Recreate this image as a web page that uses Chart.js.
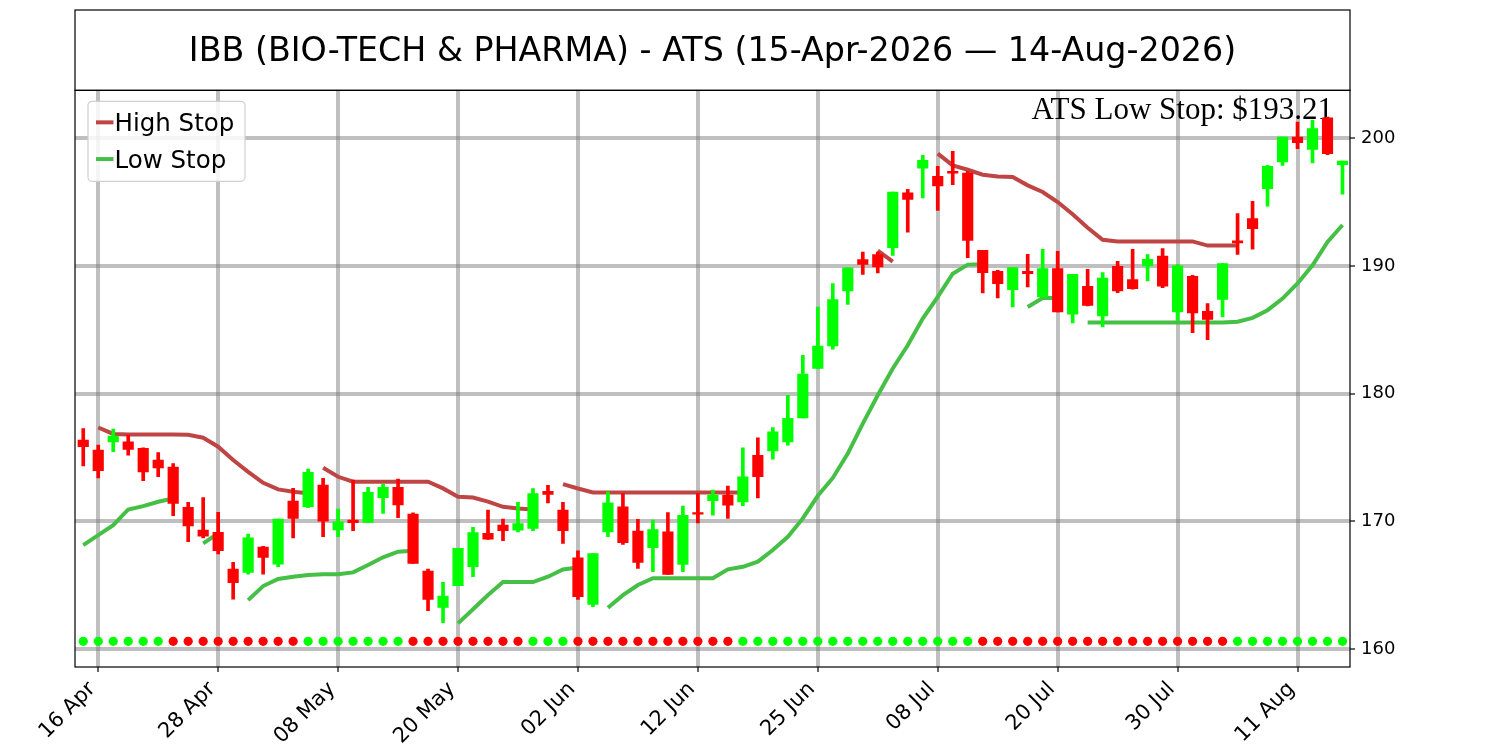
<!DOCTYPE html>
<html>
<head>
<meta charset="utf-8">
<script src="https://cdn.jsdelivr.net/npm/chart.js@4.4.1/dist/chart.umd.min.js"></script>
<style>
  html, body { margin: 0; padding: 0; background: #fff; }
  #wrap { width: 1500px; height: 750px; }
</style>
</head>
<body>
<div id="wrap"><canvas id="atsChart" width="1500" height="750"></canvas></div>
<script>
// IBB daily candles, 15-Apr-2026 .. 14-Aug-2026 (85 sessions, index 0..84)
var openValues = [176.36,175.58,176.23,176.23,175.71,174.79,174.25,171.09,169.31,169.13,
  166.26,166.00,167.98,166.65,171.58,171.14,172.84,169.32,170.10,169.92,
  171.85,172.66,170.57,166.11,163.26,164.96,166.45,169.06,169.71,169.31,
  169.44,172.36,170.88,167.14,163.49,169.18,171.14,169.23,167.93,169.18,
  166.62,170.69,171.61,172.05,171.53,175.18,175.52,176.23,178.11,181.97,
  183.74,188.05,190.50,190.89,191.44,195.74,197.67,197.02,197.41,197.28,
  191.23,189.59,188.15,189.59,187.58,189.79,186.22,188.41,186.09,189.98,
  188.93,190.01,190.77,186.41,189.20,186.46,187.38,191.97,193.72,196.06,
  198.15,200.11,199.14,201.60,197.94];
var highValues = [177.27,175.97,177.22,176.75,175.75,175.39,174.53,171.48,171.87,170.70,
  166.78,169.00,168.05,170.18,172.58,174.09,173.36,170.96,173.23,172.66,
  172.92,173.31,170.67,166.26,165.22,167.88,169.53,170.88,170.18,171.48,
  172.57,172.83,171.48,167.69,167.48,172.31,172.18,170.15,170.09,170.69,
  171.19,172.18,172.45,172.76,175.76,176.54,177.35,179.88,183.01,186.79,
  188.62,189.85,191.10,191.10,195.80,196.00,198.67,197.80,198.98,197.41,
  191.23,189.66,189.87,190.92,191.31,191.15,189.35,189.74,189.48,190.37,
  191.31,190.90,191.37,190.12,189.28,187.06,190.19,194.11,195.07,197.89,
  200.11,201.28,201.41,201.67,198.23];
var lowValues = [174.35,173.41,175.45,175.18,173.18,173.49,170.44,168.40,168.71,167.44,
  163.91,165.87,165.87,166.44,168.71,171.07,168.80,168.80,169.27,169.89,
  170.62,170.28,166.71,163.00,162.06,164.96,165.66,168.59,168.48,169.18,
  169.26,171.45,168.27,163.88,163.31,168.79,168.19,166.31,166.05,165.84,
  166.05,169.88,170.49,170.23,171.22,171.84,174.87,175.97,178.11,181.97,
  183.48,187.00,189.35,189.46,190.84,192.66,195.33,194.36,196.37,190.66,
  187.89,187.50,186.79,188.36,187.58,186.40,185.54,186.87,185.23,187.92,
  188.18,188.84,188.31,185.71,184.77,184.24,186.02,190.90,191.32,194.68,
  197.89,199.20,198.07,198.73,195.62];
var closeValues = [175.84,173.96,176.67,175.63,173.88,174.19,171.40,169.65,168.84,167.70,
  165.19,168.71,167.17,170.18,170.23,173.83,170.02,169.97,169.89,172.27,
  172.66,171.28,166.71,163.89,164.15,167.88,169.11,168.61,169.27,169.83,
  172.18,172.10,169.26,164.09,167.48,171.45,168.32,166.78,169.36,165.84,
  170.48,170.56,172.05,171.27,173.49,173.49,177.01,178.06,181.53,183.72,
  187.37,189.85,190.13,189.92,195.80,195.22,198.27,196.27,197.28,192.01,
  189.48,188.62,189.87,189.40,189.79,186.40,189.35,186.92,189.06,188.05,
  188.23,190.53,188.42,190.01,186.33,185.81,190.19,191.81,192.93,197.81,
  200.11,199.67,200.76,198.80,198.23];

// ATS trailing stops (null = stop not active)
var highStopValues = [null,177.35,176.85,176.80,176.80,176.80,176.80,176.78,176.55,175.85,
  174.80,173.88,173.02,172.50,172.32,172.20,174.20,173.49,173.10,173.10,
  173.10,173.10,173.10,173.10,172.58,171.93,171.87,171.54,171.14,171.00,
  170.93,null,172.91,172.57,172.26,172.26,172.26,172.26,172.26,172.26,
  172.26,172.26,172.26,172.26,172.26,null,null,null,null,null,
  null,null,null,191.20,190.35,null,null,198.80,197.88,197.54,
  197.15,197.02,196.97,196.32,195.80,195.01,194.05,193.00,192.06,191.93,
  191.93,191.93,191.93,191.93,191.93,191.60,191.60,191.60,null,null,
  null,null,null,null,null];
var lowStopValues = [168.14,168.92,169.70,170.93,171.19,171.53,171.79,null,168.27,169.05,
  null,163.83,164.93,165.48,165.66,165.79,165.85,165.85,166.00,166.58,
  167.18,167.62,167.70,null,null,162.01,163.11,164.23,165.24,165.24,
  165.24,165.66,166.23,166.39,null,163.23,164.22,165.01,165.55,165.55,
  165.55,165.55,165.55,166.24,166.44,166.84,167.75,168.79,170.23,172.00,
  173.40,175.31,177.66,179.88,181.97,183.79,185.88,187.58,189.40,190.11,
  190.13,null,null,186.79,187.50,187.50,null,185.57,185.57,185.57,
  185.57,185.57,185.57,185.57,185.57,185.57,185.57,185.63,185.94,186.54,
  187.45,188.63,190.06,191.89,193.21];

// signal dots along the bottom: 1 = long (green), -1 = short (red)
var signalValues = [1,1,1,1,1,1,-1,-1,-1,-1,
  -1,-1,-1,-1,-1,1,1,1,1,1,
  1,1,-1,-1,-1,-1,-1,-1,-1,-1,
  1,1,1,-1,-1,-1,-1,-1,-1,-1,
  -1,-1,-1,-1,1,1,1,1,1,1,
  1,1,1,1,1,1,1,1,1,1,
  -1,-1,-1,-1,-1,-1,-1,-1,-1,-1,
  -1,-1,-1,-1,-1,-1,-1,1,1,1,
  1,1,1,1,1];
var signalLevel = 160.6;

var tickIndex = [1, 9, 17, 25, 33, 41, 49, 57, 65, 73, 81];
var tickLabels = ["16 Apr", "28 Apr", "08 May", "20 May", "02 Jun", "12 Jun",
  "25 Jun", "08 Jul", "20 Jul", "30 Jul", "11 Aug"];
var yTicks = [160, 170, 180, 190, 200];

var UP = "#00ff00", DOWN = "#ff0000";
var HIGH_COLOR = "#bf4545", LOW_COLOR = "#45bf45";
var GRID = "rgba(128,128,128,0.5)";

Chart.defaults.font.family = "'DejaVu Sans', sans-serif";
Chart.defaults.color = "#000";

var candleColors = openValues.map(function(o, i) {
  return closeValues[i] >= o ? UP : DOWN;
});
var idx = function(v, i) { return { x: i, y: v }; };

// a trailing stop that jumps (resets) starts a new piece of line
function stopSegment(color, dir) {
  return {
    borderColor: function(ctx) {
      var d = ctx.p1.parsed.y - ctx.p0.parsed.y;
      return d * dir > 0 ? "transparent" : color;
    }
  };
}

// title frame, plot frame, legend and the low stop note
var atsDecor = {
  id: "atsDecor",
  beforeDatasetsDraw: function(chart) {
    var ctx = chart.ctx, a = chart.chartArea;
    var last = lowStopValues[lowStopValues.length - 1];
    ctx.save();
    ctx.font = "31px 'Liberation Serif', 'DejaVu Serif', serif";
    ctx.fillStyle = "#000";
    ctx.textAlign = "right";
    ctx.textBaseline = "alphabetic";
    ctx.fillText("ATS Low Stop: $" + last.toFixed(2), a.right - 17, a.top + 29);
    ctx.restore();
  },
  afterDatasetsDraw: function(chart) {
    var ctx = chart.ctx, a = chart.chartArea;
    var items = chart.data.datasets.filter(function(d) { return d.showInLegend; });
    var x = a.left + 13, y = a.top + 11, w = 157, h = 80;
    ctx.save();
    ctx.beginPath();
    ctx.roundRect(x, y, w, h, 4);
    ctx.fillStyle = "rgba(255,255,255,0.85)";
    ctx.fill();
    ctx.strokeStyle = "#d0d0d0";
    ctx.lineWidth = 1.2;
    ctx.stroke();
    ctx.font = "24.5px 'DejaVu Sans', sans-serif";
    ctx.textBaseline = "alphabetic";
    items.forEach(function(d, k) {
      var ly = y + 21 + k * 36.7;
      ctx.beginPath();
      ctx.moveTo(x + 8, ly);
      ctx.lineTo(x + 25.5, ly);
      ctx.strokeStyle = d.borderColor;
      ctx.lineWidth = 4;
      ctx.stroke();
      ctx.fillStyle = "#000";
      ctx.fillText(d.label, x + 26.5, ly + 8.5);
    });
    ctx.restore();
  },
  afterDraw: function(chart) {
    var ctx = chart.ctx, a = chart.chartArea;
    ctx.save();
    ctx.strokeStyle = "#000";
    ctx.lineWidth = 1.2;
    ctx.strokeRect(a.left, a.top, a.right - a.left, a.bottom - a.top);
    ctx.strokeRect(a.left, 10, a.right - a.left, a.top - 10);
    ctx.restore();
  }
};

new Chart("atsChart", {
  type: "bar",
  data: {
    datasets: [{
      // candle bodies, open -> close
      data: openValues.map(function(o, i) { return { x: i, y: [o, closeValues[i]] }; }),
      backgroundColor: candleColors,
      barThickness: 10.5,
      minBarLength: 1.5,
      grouped: false,
      order: 0
    }, {
      // wicks, low -> high
      data: lowValues.map(function(l, i) { return { x: i, y: [l, highValues[i]] }; }),
      backgroundColor: candleColors,
      barThickness: 3,
      grouped: false,
      order: 0
    }, {
      type: "line",
      label: "High Stop",
      showInLegend: true,
      data: highStopValues.map(idx),
      borderColor: HIGH_COLOR,
      borderWidth: 4,
      pointRadius: 0,
      spanGaps: false,
      segment: stopSegment(HIGH_COLOR, 1),
      order: 1
    }, {
      type: "line",
      label: "Low Stop",
      showInLegend: true,
      data: lowStopValues.map(idx),
      borderColor: LOW_COLOR,
      borderWidth: 4,
      pointRadius: 0,
      spanGaps: false,
      segment: stopSegment(LOW_COLOR, -1),
      order: 1
    }, {
      type: "line",
      data: signalValues.map(function(s, i) { return { x: i, y: signalLevel }; }),
      showLine: false,
      pointRadius: 4.6,
      pointBorderWidth: 0,
      pointBackgroundColor: signalValues.map(function(s) { return s > 0 ? UP : DOWN; }),
      order: 2
    }]
  },
  options: {
    responsive: false,
    animation: false,
    devicePixelRatio: 1,
    layout: { padding: { left: 75, top: 10, right: 0, bottom: 0 } },
    plugins: {
      legend: { display: false },
      tooltip: { enabled: false },
      title: {
        display: true,
        fullSize: false,
        text: "IBB (BIO-TECH & PHARMA) - ATS (15-Apr-2026 \u2014 14-Aug-2026)",
        font: { size: 33.3, weight: "normal" },
        color: "#000",
        padding: { top: 22.5, bottom: 17.9 }
      }
    },
    scales: {
      x: {
        type: "linear",
        min: -0.55,
        max: 84.5,
        offset: false,
        afterBuildTicks: function(s) { s.ticks = tickIndex.map(function(v) { return { value: v }; }); },
        afterFit: function(s) { s.height = 83; },
        ticks: {
          autoSkip: false,
          minRotation: 45,
          maxRotation: 45,
          padding: 5,
          labelOffset: -6,
          font: { size: 21 },
          callback: function(v) { return tickLabels[tickIndex.indexOf(v)]; }
        },
        grid: { color: GRID, lineWidth: 4, offset: false, tickColor: "#000", tickLength: 5, tickWidth: 1.2 },
        border: { display: false }
      },
      y: {
        position: "right",
        min: 158.59,
        max: 203.76,
        afterBuildTicks: function(s) { s.ticks = yTicks.map(function(v) { return { value: v }; }); },
        afterFit: function(s) { s.width = 150; },
        ticks: { padding: 6, font: { size: 18 } },
        grid: { color: GRID, lineWidth: 4, tickColor: "#000", tickLength: 5, tickWidth: 1.2 },
        border: { display: false }
      }
    }
  },
  plugins: [atsDecor]
});
</script>
</body>
</html>
